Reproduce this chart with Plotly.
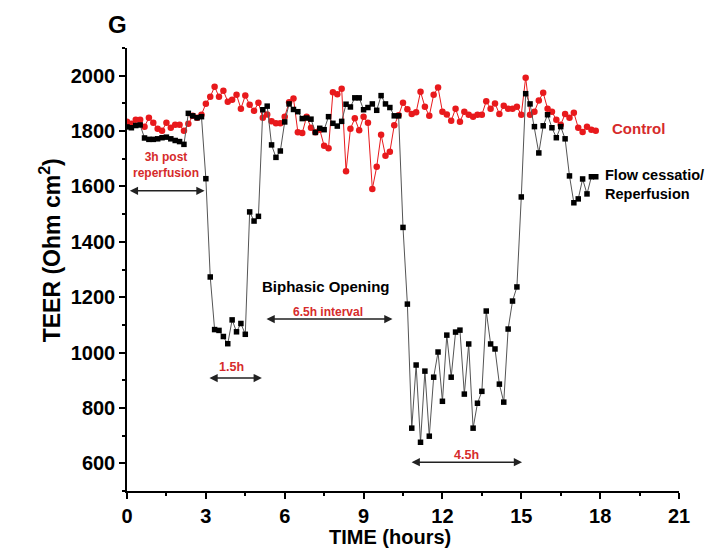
import plotly.graph_objects as go

# time step: 10 min readings
step_hours = 1 / 6

control = [1834, 1826, 1841, 1841, 1816, 1848, 1830, 1808, 1801, 1830, 1812, 1823, 1823, 1801,
           1826, 1855, 1848, 1859, 1899, 1924, 1960, 1924, 1946, 1906, 1913, 1931, 1881, 1928,
           1895, 1873, 1902, 1848, 1860, 1835, 1828, 1828, 1852, 1904, 1918, 1796, 1793, 1852,
           1812, 1796, 1805, 1747, 1738, 1940, 1933, 1953, 1655, 1808, 1846, 1803, 1852, 1830,
           1591, 1671, 1787, 1711, 1725, 1821, 1857, 1902, 1879, 1862, 1868, 1942, 1888, 1855,
           1931, 1957, 1870, 1860, 1837, 1881, 1834, 1870, 1859, 1852, 1859, 1859, 1908, 1881,
           1900, 1862, 1891, 1881, 1881, 1888, 1859, 1993, 1859, 1870, 1910, 1938, 1881, 1870,
           1841, 1823, 1862, 1848, 1866, 1812, 1797, 1816, 1805, 1801]

flow = [1815, 1812, 1820, 1822, 1775, 1770, 1770, 1772, 1776, 1778, 1772, 1766, 1762, 1752,
        1864, 1855, 1848, 1852, 1628, 1273, 1083, 1080, 1058, 1032, 1118, 1075, 1105, 1066,
        1508, 1475, 1492, 1877, 1890, 1750, 1705, 1728, 1833, 1898, 1878, 1870, 1845, 1847,
        1843, 1795, 1810, 1805, 1852, 1828, 1818, 1835, 1897, 1887, 1920, 1920, 1877, 1885,
        1898, 1875, 1928, 1898, 1885, 1855, 1855, 1452, 1175, 727, 955, 676, 933, 698, 911,
        1002, 824, 1063, 911, 1074, 1081, 850, 1031, 727, 817, 860, 1150, 1031, 1013, 886,
        821, 1085, 1186, 1237, 1562, 1935, 1898, 1816, 1721, 1819, 1859, 1812, 1776, 1816,
        1772, 1638, 1541, 1555, 1627, 1573, 1635, 1635]

t_control = [i * step_hours for i in range(len(control))]
t_flow = [i * step_hours for i in range(len(flow))]

x_ticks = [0, 3, 6, 9, 12, 15, 18, 21]
y_ticks = [600, 800, 1000, 1200, 1400, 1600, 1800, 2000]

RED = "#e8191c"
RED_TXT = "#d62b2b"
FONT = "Liberation Sans"

fig = go.Figure()
fig.add_trace(go.Scatter(x=t_control, y=control, mode="lines+markers",
                         line=dict(color=RED, width=1),
                         marker=dict(symbol="circle", size=6.5, color=RED),
                         showlegend=False))
fig.add_trace(go.Scatter(x=t_flow, y=flow, mode="lines+markers",
                         line=dict(color="#555555", width=1),
                         marker=dict(symbol="square", size=5.5, color="#000000"),
                         showlegend=False))

axis_common = dict(showline=True, linecolor="black", linewidth=1.5, ticks="outside",
                   ticklen=6, tickwidth=1.5, tickcolor="black", showgrid=False,
                   zeroline=False, mirror=False, automargin=False,
                   tickfont=dict(family=FONT, size=20, color="black", weight="bold"))

fig.update_xaxes(range=[0, 21], tickvals=x_ticks,
                 minor=dict(dtick=1.5, ticks="outside", ticklen=3, tickwidth=1.5, tickcolor="black"),
                 **axis_common)
fig.update_yaxes(range=[500, 2100], tickvals=y_ticks,
                 minor=dict(dtick=100, ticks="outside", ticklen=3, tickwidth=1.5, tickcolor="black"),
                 **axis_common)

ann = []
def txt(x, y, s, size=12, color=RED_TXT, xanchor="center", align="center", xref="x", yref="y", angle=0):
    ann.append(dict(x=x, y=y, text=s, showarrow=False, xref=xref, yref=yref,
                    xanchor=xanchor, yanchor="middle", align=align, textangle=angle,
                    font=dict(family=FONT, size=size, color=color, weight="bold")))

def darrow(x0, x1, y):
    ann.append(dict(x=x1, y=y, ax=x0, ay=y, xref="x", yref="y", axref="x", ayref="y",
                    text="", showarrow=True, arrowside="end+start", arrowhead=2,
                    arrowsize=1.1, arrowwidth=1.5, arrowcolor="#222222", standoff=0, startstandoff=0))

txt(1.48, 1678, "3h post<br>reperfusion", size=12)
darrow(0.05, 2.95, 1584)
txt(3.99, 947, "1.5h", size=12.5)
darrow(3.08, 5.13, 908)
txt(7.57, 1237, "Biphasic Opening", size=15, color="black")
txt(7.65, 1146, "6.5h interval", size=12)
darrow(5.25, 10.1, 1121)
txt(12.9, 629, "4.5h", size=12.5)
darrow(10.77, 15.03, 604)
txt(18.37, 1808, "Control", size=15, xanchor="left")
txt(18.12, 1606, "Flow cessatio/<br>Reperfusion", size=14.5, color="black", xanchor="left", align="left")

# panel letter and axis titles
txt(-0.018, 1.052, "G", size=24, color="black", xref="paper", yref="paper")
txt(0.476, -0.104, "TIME (hours)", size=20, color="black", xref="paper", yref="paper")
txt(-0.139, 0.544, "TEER (Ohm cm<sup>2</sup>)", size=23, color="black", xref="paper", yref="paper", angle=-90)

# page body adds an 8 px offset, so the figure is 8 px smaller with matching margins
fig.update_layout(width=707, height=540, margin=dict(l=119, r=36, t=40, b=57),
                  plot_bgcolor="white", paper_bgcolor="white", annotations=ann,
                  font=dict(family=FONT))

fig.write_html("out.html")
